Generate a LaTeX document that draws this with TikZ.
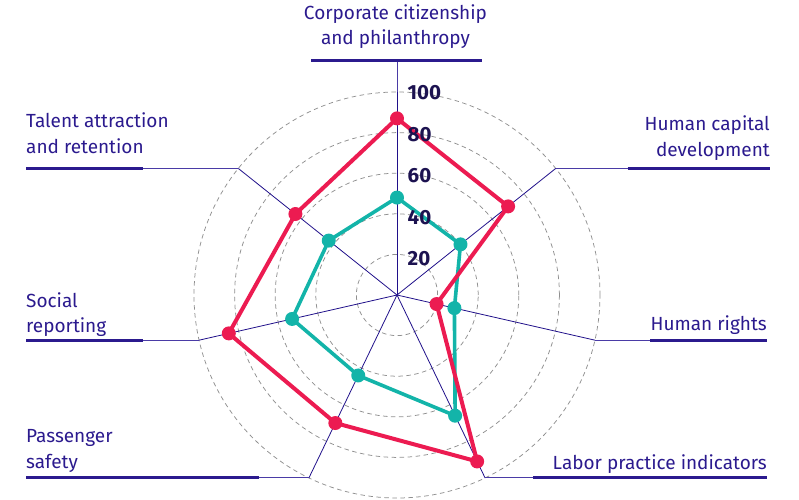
\documentclass[tikz,border=0pt]{standalone}
\usepackage{fontspec}
\setmainfont{Fira Sans}
\usetikzlibrary{positioning}
\definecolor{labelink}{HTML}{2B1A8E}
\definecolor{spokeblue}{HTML}{20108A}
\definecolor{leadblue}{HTML}{4A3BA6}
\definecolor{scoreink}{HTML}{1C1250}
\definecolor{ringgrey}{HTML}{909090}
\definecolor{crimson}{HTML}{EC1B51}
\definecolor{tealmark}{HTML}{13B4A9}
\begin{document}
\begin{tikzpicture}[x=1pt,y=1pt,
  ring/.style={draw=ringgrey,line width=0.75pt,dash pattern=on 4.5pt off 3.5pt},
  spoke/.style={draw=spokeblue,line width=0.8pt},
  lead/.style={draw=leadblue,line width=0.9pt},
  uline/.style={draw=labelink,line width=3pt},
  lbl/.style={font=\fontsize{19}{25.5}\selectfont,text=labelink,inner sep=0pt,text depth=0pt},
  score/.style={font=\fontsize{20.5}{20.5}\selectfont\bfseries,text=scoreink,inner sep=0pt,anchor=west},
  series/.style={draw=#1,line width=4pt,line join=round},
  dot/.style={circle,fill=#1,inner sep=0pt,minimum size=14pt}]
\useasboundingbox (-397,-204) rectangle (402,295);
\coordinate (o) at (0,0);
% rings 20..100
\foreach \r in {1,...,5}
  \draw[ring] (o) circle ({\r*40.6});
\foreach \n [count=\k from 0] in {corp,hcap,hrig,labor,pass,social,talent}
  \coordinate (\n-e) at ({90-\k*360/7}:203);
\foreach \n in {corp,hcap,hrig,labor,pass,social,talent}
  \draw[spoke] (o) -- (\n-e);
%
% teal series
\foreach \v [count=\k from 0] in {48,40,29,66,44,53,43}
  \coordinate (t\k) at ({90-\k*360/7}:{\v*2.03});
\draw[series=tealmark,line width=3.6pt] (t0) -- (t1) -- (t2) -- (t3) -- (t4) -- (t5) -- (t6) -- cycle;
\foreach \k in {0,...,6}
  \node[dot=tealmark] (td\k) at (t\k) {};
% crimson series
\foreach \v [count=\k from 0] in {87,70,20,91,70,85,64}
  \coordinate (r\k) at ({90-\k*360/7}:{\v*2.03});
\draw[series=crimson] (r0) -- (r1) -- (r2) -- (r3) -- (r4) -- (r5) -- (r6) -- cycle;
\foreach \k in {0,...,6}
  \node[dot=crimson] (rd\k) at (r\k) {};
% scale on top
\foreach \v in {20,40,60,80,100}
  \node[score] (s\v) at (10.5,{\v*2.07-5}) {\v};
%
% labels
\coordinate (corp-u) at (0,235);
\coordinate (corp-a) at (-86,235);
\coordinate (corp-b) at (85,235);
\draw[lead] (corp-e) -- (corp-u);
\draw[uline] (corp-a) -- (corp-b);
\node[lbl,align=center,anchor=south] (corp) at ([xshift=-1.5pt,yshift=15pt]corp-u) {Corporate citizenship\\and philanthropy};
%
\coordinate (hcap-u) at (230.7,0 |- hcap-e);
\coordinate (hcap-b) at (373,0 |- hcap-e);
\draw[lead] (hcap-e) -- (hcap-u);
\draw[uline] (hcap-u) -- (hcap-b);
\node[lbl,align=right,anchor=south east] (hcap) at ([yshift=12pt]hcap-b) {Human capital\\development};
%
\coordinate (hrig-u) at (253,0 |- hrig-e);
\coordinate (hrig-b) at (370,0 |- hrig-e);
\draw[lead] (hrig-e) -- (hrig-u);
\draw[uline] (hrig-u) -- (hrig-b);
\node[lbl,align=right,anchor=south east] (hrig) at ([yshift=9pt]hrig-b) {Human rights};
%
\coordinate (labor-u) at (136,0 |- labor-e);
\coordinate (labor-b) at (370,0 |- labor-e);
\draw[lead] (labor-e) -- (labor-u);
\draw[uline] (labor-u) -- (labor-b);
\node[lbl,align=right,anchor=south east] (labor) at ([yshift=8.4pt]labor-b) {Labor practice indicators};
%
\coordinate (pass-u) at (-138,0 |- pass-e);
\coordinate (pass-a) at (-371,0 |- pass-e);
\draw[lead] (pass-e) -- (pass-u);
\draw[uline] (pass-u) -- (pass-a);
\node[lbl,align=left,anchor=south west] (pass) at ([yshift=9.3pt]pass-a) {Passenger\\safety};
%
\coordinate (social-u) at (-254,0 |- social-e);
\coordinate (social-a) at (-371,0 |- social-e);
\draw[lead] (social-e) -- (social-u);
\draw[uline] (social-u) -- (social-a);
\node[lbl,align=left,anchor=south west] (social) at ([yshift=7.4pt]social-a) {Social\\reporting};
%
\coordinate (talent-u) at (-254,0 |- talent-e);
\coordinate (talent-a) at (-371,0 |- talent-e);
\draw[lead] (talent-e) -- (talent-u);
\draw[uline] (talent-u) -- (talent-a);
\node[lbl,align=left,anchor=south west] (talent) at ([yshift=15pt]talent-a) {Talent attraction\\and retention};
\end{tikzpicture}
\end{document}
